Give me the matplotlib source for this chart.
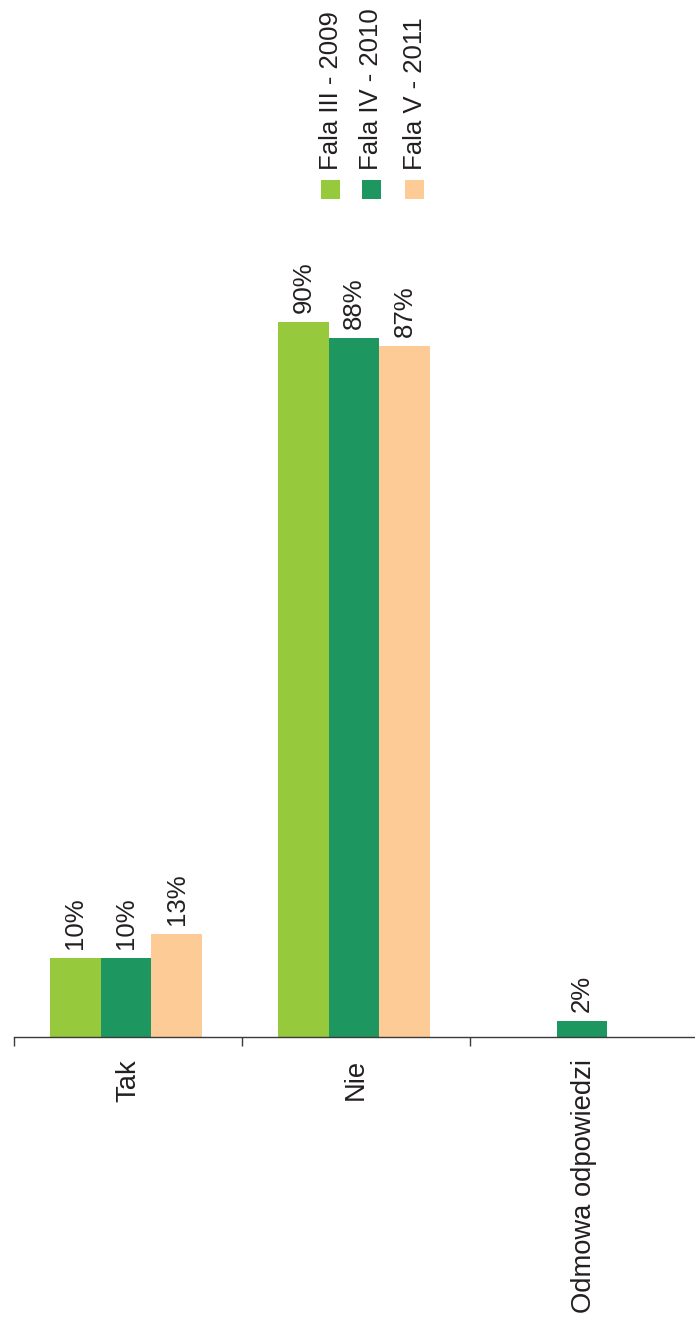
import numpy as np
import matplotlib.pyplot as plt
from matplotlib.patches import Rectangle

plt.rcParams['font.family'] = ['Liberation Sans', 'DejaVu Sans']

categories = ['Tak', 'Nie', 'Odmowa odpowiedzi']
series = ['Fala III - 2009', 'Fala IV - 2010', 'Fala V - 2011']
fala3 = [10, 90, 0]
fala4 = [10, 88, 2]
fala5 = [13, 87, 0]
colors = ['#97C93D', '#1D965F', '#FCCB96']

W, H = 695, 1331
fig = plt.figure(figsize=(W / 100, H / 100), dpi=100)
base = 1037
ax = fig.add_axes([14 / W, (H - base) / H, 684 / W, base / H])

x = np.arange(len(categories))
bw = 0.222
shift = -0.009
for k, (vals, c) in enumerate(zip([fala3, fala4, fala5], colors)):
    xs = x + (k - 1) * bw + shift
    for xi, v in zip(xs, vals):
        if v <= 0:
            continue
        ax.bar(xi, v, width=bw, color=c, linewidth=0)
        ax.annotate('{}%'.format(v), (xi, v), xytext=(0, 9), textcoords='offset pixels',
                    rotation=90, ha='center', va='bottom', fontsize=18.5, color='#231f20')

ax.set_xlim(-0.5, 2.5)
ax.set_ylim(0, base / 7.94)
for s in ['top', 'right', 'left']:
    ax.spines[s].set_visible(False)
ax.spines['bottom'].set_color('#3a3a3a')
ax.spines['bottom'].set_linewidth(1.0)
ax.set_yticks([])
ax.set_xticks([-0.5, 0.5, 1.5, 2.5])
ax.set_xticklabels([])
ax.set_xticks(x, minor=True)
ax.set_xticklabels(categories, minor=True, rotation=90, fontsize=19.7, color='#231f20')
ax.tick_params(axis='x', which='major', length=6.5, width=1.0, color='#3a3a3a', direction='out')
ax.tick_params(axis='x', which='minor', length=0, pad=16)

# legend, drawn by hand because its texts are rotated
lx = [321, 362, 405]
for px, c, name in zip(lx, colors, series):
    fig.add_artist(Rectangle((px / W, (H - 199) / H), 19 / W, 19 / H,
                             transform=fig.transFigure, color=c, linewidth=0))
    fig.text((px + 9.5) / W, (H - 170) / H, name, rotation=90, ha='center', va='bottom',
             fontsize=18.5, color='#231f20')

plt.savefig('out.png', dpi=100)
